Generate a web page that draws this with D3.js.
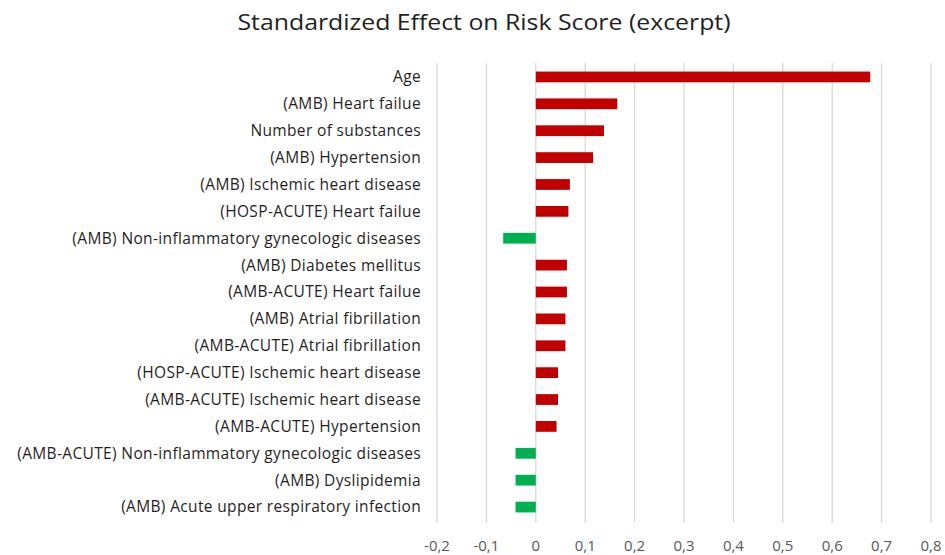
<!DOCTYPE html>
<html><head><meta charset="utf-8">
<script src="https://cdn.jsdelivr.net/npm/d3@7"></script>
<style>body{margin:0;background:#fff}svg{display:block}</style>
</head><body>
<svg id="c" width="945" height="555"></svg>
<script>
const categories = [
  "Age",
  "(AMB) Heart failue",
  "Number of substances",
  "(AMB) Hypertension",
  "(AMB) Ischemic heart disease",
  "(HOSP-ACUTE) Heart failue",
  "(AMB) Non-inflammatory gynecologic diseases",
  "(AMB) Diabetes mellitus",
  "(AMB-ACUTE) Heart failue",
  "(AMB) Atrial fibrillation",
  "(AMB-ACUTE) Atrial fibrillation",
  "(HOSP-ACUTE) Ischemic heart disease",
  "(AMB-ACUTE) Ischemic heart disease",
  "(AMB-ACUTE) Hypertension",
  "(AMB-ACUTE) Non-inflammatory gynecologic diseases",
  "(AMB) Dyslipidemia",
  "(AMB) Acute upper respiratory infection"
];
const values = [0.677, 0.165, 0.138, 0.116, 0.069, 0.066, -0.066, 0.063, 0.063, 0.060, 0.060, 0.045, 0.045, 0.042, -0.041, -0.041, -0.041];
const xTicks = [-0.2, -0.1, 0, 0.1, 0.2, 0.3, 0.4, 0.5, 0.6, 0.7, 0.8];
const title = "Standardized Effect on Risk Score (excerpt)";

const svg = d3.select("#c");
const x = d3.scaleLinear().domain([-0.2, 0.8]).range([437, 931]);
const y = d3.scaleBand().domain(categories).range([63.5, 520.5]).paddingInner(0.6).paddingOuter(0.3);
const loc = d3.formatLocale({decimal: ",", thousands: ".", grouping: [3], currency: ["", ""], minus: "-"});
const fmt = loc.format(".1~f");

// gridlines
svg.append("g").selectAll("line").data(xTicks).join("line")
  .attr("x1", d => x(d)).attr("x2", d => x(d))
  .attr("y1", 63).attr("y2", 523)
  .attr("stroke", "#d9d9d9").attr("stroke-width", 1.3);

// bars
svg.append("g").selectAll("rect").data(values).join("rect")
  .attr("x", d => x(Math.min(0, d)))
  .attr("width", d => Math.abs(x(d) - x(0)))
  .attr("y", (d, i) => y(categories[i]))
  .attr("height", y.bandwidth())
  .attr("fill", d => d >= 0 ? "#C00000" : "#00B050");

// category labels
svg.append("g").selectAll("text").data(categories).join("text")
  .attr("x", 421).attr("y", d => y(d) + y.bandwidth() / 2)
  .attr("dy", "0.35em").attr("text-anchor", "end")
  .attr("font-family", "Open Sans, sans-serif").attr("font-size", 15.5)
  .attr("letter-spacing", 0.35)
  .attr("fill", "#1f1f1f").text(d => d);

// x tick labels
svg.append("g").selectAll("text").data(xTicks).join("text")
  .attr("x", d => x(d)).attr("y", 551).attr("text-anchor", "middle")
  .attr("font-family", "Open Sans, sans-serif").attr("font-size", 15)
  .attr("fill", "#595959").text(d => fmt(d));

// title
svg.append("text").attr("x", 484).attr("y", 30).attr("text-anchor", "middle")
  .attr("font-family", "Open Sans, sans-serif").attr("font-size", 21)
  .attr("textLength", 493).attr("lengthAdjust", "spacingAndGlyphs")
  .attr("fill", "#1f1f1f").text(title);
</script>
</body></html>
